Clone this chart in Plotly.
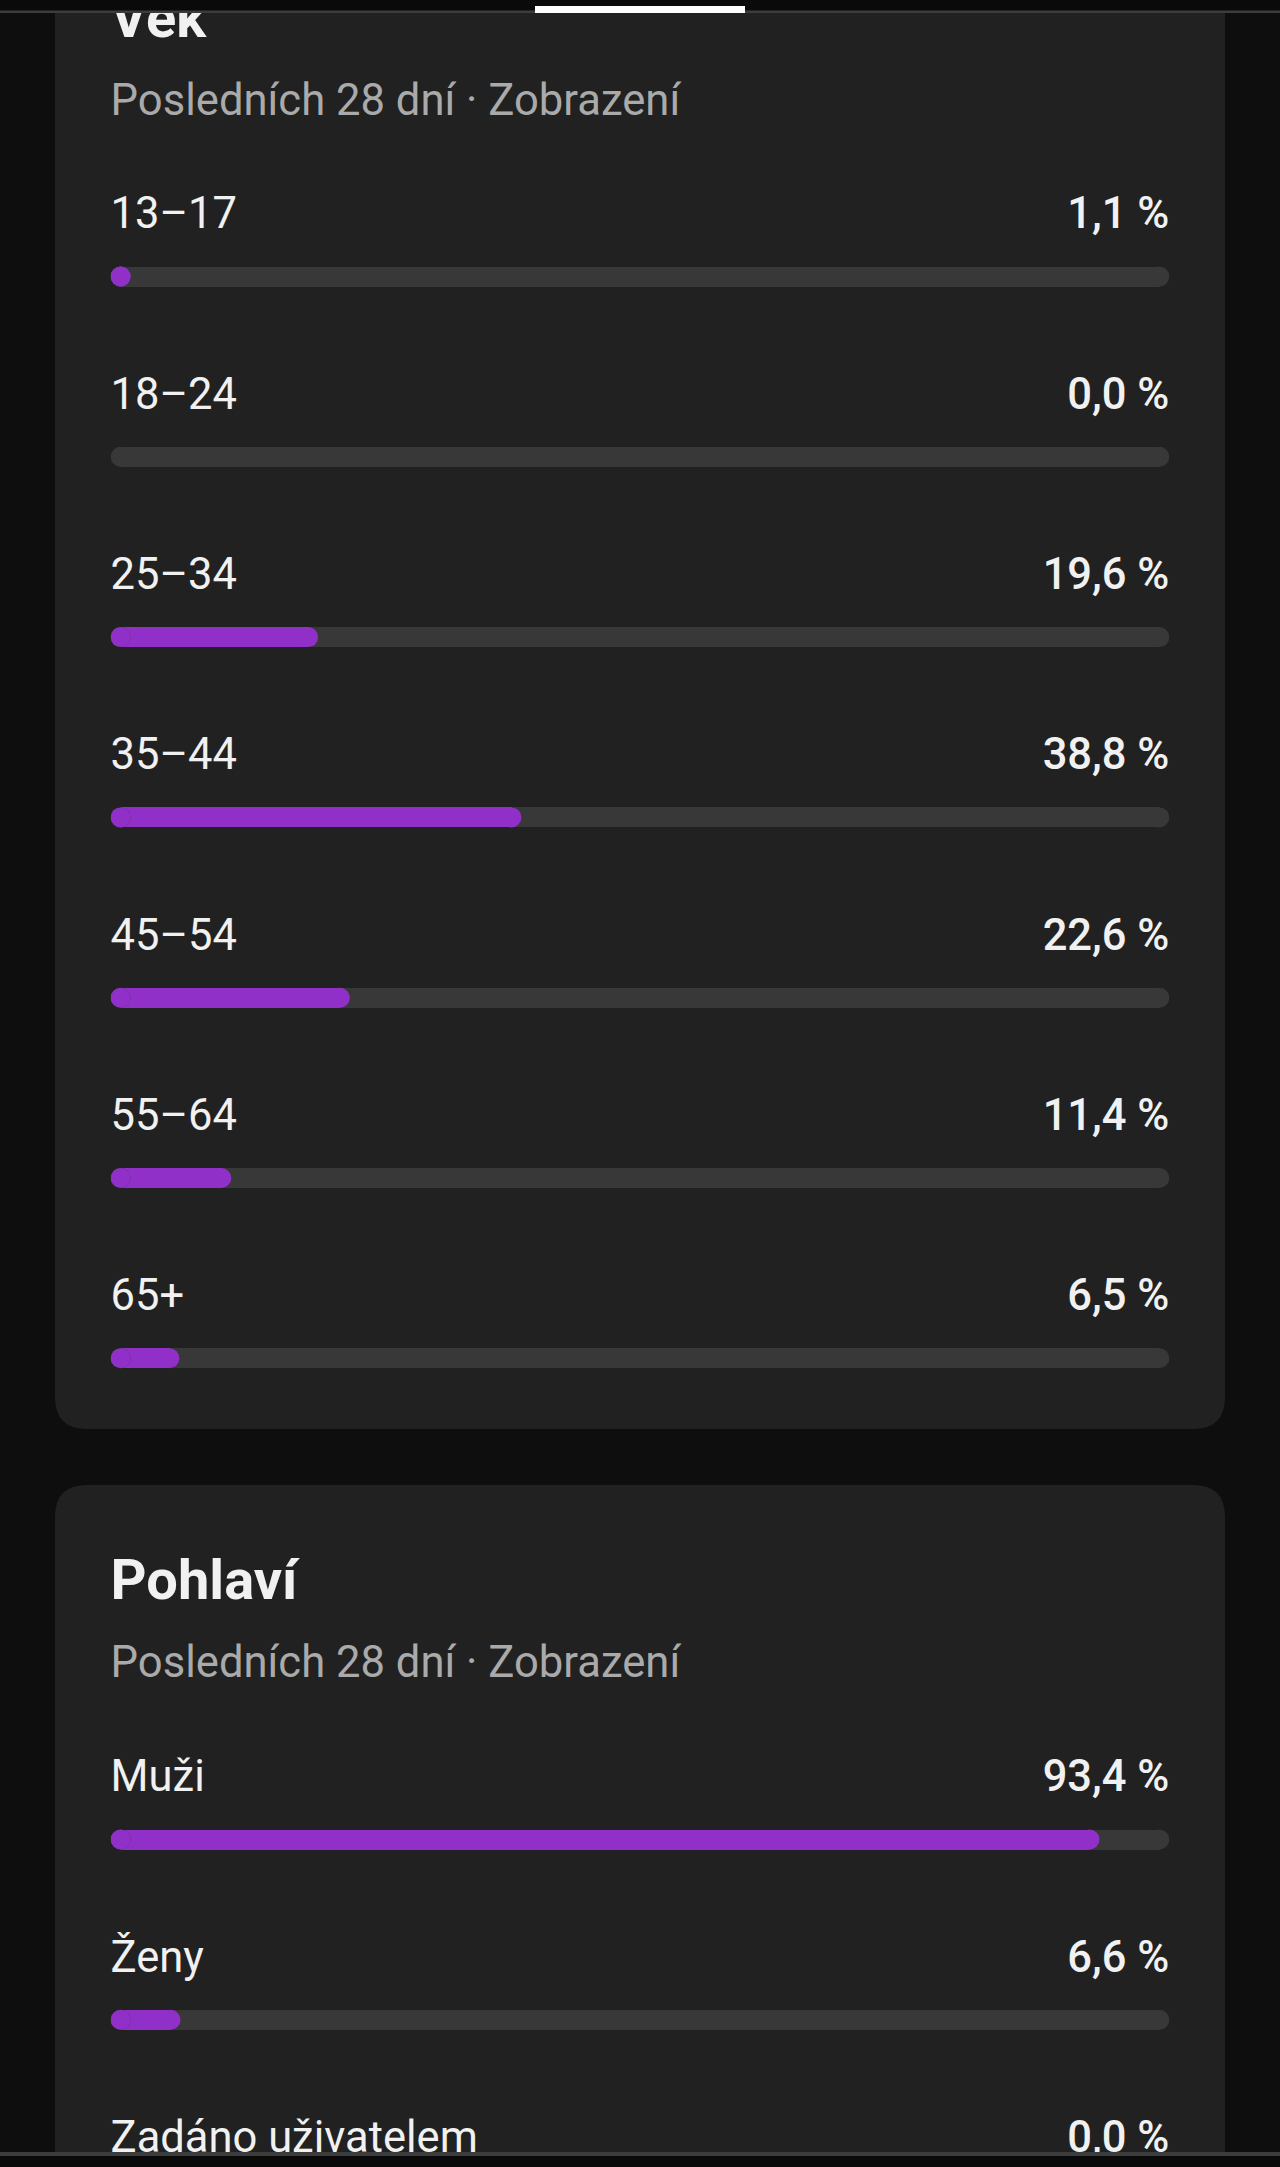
import plotly.graph_objects as go

# Age and gender split, last 28 days (views)
age_labels = ['13–17', '18–24', '25–34', '35–44', '45–54', '55–64', '65+']
age_values = [1.1, 0.0, 19.6, 38.8, 22.6, 11.4, 6.5]

gender_labels = ['Muži', 'Ženy', 'Zadáno uživatelem']
gender_values = [93.4, 6.6, 0.0]

age_title = 'Věk'
gender_title = 'Pohlaví'
subtitle = 'Posledních 28 dní · Zobrazení'

W, H = 1280, 2167
TOP, BOTTOM = 12, 2153
BG = '#0e0e0e'
CARD = '#212121'
TRACK = '#383838'
PURPLE = '#9030c8'
FONT = 'Roboto'

# pixel layout of the cards
card_l, card_r = 55, 1225
bar_l, bar_r = 110.6, 1169.4
row_step = 180.3
age_bar_y0 = 276.5
gender_bar_y0 = 1839.5
label_offset = 59  # label centre sits this far above its bar
bar_h = 20
cap = 100 * (bar_h / 2) / (bar_r - bar_l)  # cap radius, in percent of the track
min_pct = 2 * cap  # the app never draws a pill shorter than it is tall


def rounded_rect(x0, y0, x1, y1, r):
    return (f'M{x0 + r},{y0} L{x1 - r},{y0} Q{x1},{y0} {x1},{y0 + r} '
            f'L{x1},{y1 - r} Q{x1},{y1} {x1 - r},{y1} L{x0 + r},{y1} '
            f'Q{x0},{y1} {x0},{y1 - r} L{x0},{y0 + r} Q{x0},{y0} {x0 + r},{y0} Z')


def fmt(v):
    return f'{v:.1f}'.replace('.', ',') + ' %'


fig = go.Figure()
pill_ends = []  # round ends go on top of all bars, added after the bars


def add_pill(lengths, bar_y, color):
    # percent axis zero sits one radius in from the track start:
    # square body between the two circle centres, a round dot at each end
    keep = [i for i, v in enumerate(lengths) if v > 0]
    ends = [lengths[i] - 2 * cap for i in keep]
    ys = [bar_y[i] for i in keep]
    fig.add_trace(go.Bar(
        x=ends, y=ys, orientation='h', width=bar_h,
        marker=dict(color=color, line=dict(width=0)),
        xaxis='x2', yaxis='y', hoverinfo='skip', showlegend=False,
    ))
    pill_ends.append(go.Scatter(
        x=[0] * len(keep) + ends, y=ys + ys, mode='markers',
        marker=dict(color=color, size=bar_h, symbol='circle', line=dict(width=0)),
        xaxis='x2', yaxis='y', hoverinfo='skip', showlegend=False,
    ))


def add_section(title, labels, values, bar_y0, title_y):
    bar_y = [bar_y0 + i * row_step for i in range(len(labels))]
    label_y = [y - label_offset for y in bar_y]
    shown = [max(v, min_pct) if v > 0 else 0 for v in values]

    add_pill([100] * len(values), bar_y, TRACK)
    add_pill(shown, bar_y, PURPLE)

    # headings
    fig.add_trace(go.Scatter(
        x=[bar_l], y=[title_y], mode='text', text=[f'<b>{title}</b>'],
        textposition='middle right',
        textfont=dict(family=FONT, size=56, color='#f1f1f1'),
        hoverinfo='skip', showlegend=False,
    ))
    fig.add_trace(go.Scatter(
        x=[bar_l], y=[title_y + 81], mode='text', text=[subtitle],
        textposition='middle right',
        textfont=dict(family=FONT, size=43.6, color='#aaaaaa'),
        hoverinfo='skip', showlegend=False,
    ))

    # row labels and percentages
    fig.add_trace(go.Scatter(
        x=[bar_l] * len(labels), y=label_y, mode='text', text=labels,
        textposition='middle right',
        textfont=dict(family=FONT, size=43.5, color='#f1f1f1'),
        hoverinfo='skip', showlegend=False,
    ))
    fig.add_trace(go.Scatter(
        x=[bar_r] * len(values), y=label_y, mode='text',
        text=[fmt(v) for v in values],
        textposition='middle left',
        textfont=dict(family=FONT, size=43.5, color='#f1f1f1', weight=500),
        hoverinfo='skip', showlegend=False,
    ))


add_section(age_title, age_labels, age_values, age_bar_y0, 23)
add_section(gender_title, gender_labels, gender_values, gender_bar_y0, 1585)
for tr in pill_ends:
    fig.add_trace(tr)

shapes = [
    dict(type='path', xref='x', yref='y', layer='below',
         path=rounded_rect(card_l, -200, card_r, 1429, 32),
         fillcolor=CARD, line=dict(width=0)),
    dict(type='path', xref='x', yref='y', layer='below',
         path=rounded_rect(card_l, 1485, card_r, 2400, 32),
         fillcolor=CARD, line=dict(width=0)),
]


def py(p):
    return (BOTTOM - p) / (BOTTOM - TOP)


# status strip at the top and bottom edge
shapes += [
    dict(type='rect', xref='paper', yref='paper', x0=0, x1=1,
         y0=py(TOP), y1=py(0), fillcolor='#0a0a0a', line=dict(width=0), layer='above'),
    dict(type='rect', xref='paper', yref='paper', x0=0, x1=1,
         y0=py(13), y1=py(10.5), fillcolor='#3c3c3c', line=dict(width=0), layer='above'),
    dict(type='rect', xref='paper', yref='paper', x0=535 / W, x1=745 / W,
         y0=py(13), y1=py(6), fillcolor='#ffffff', line=dict(width=0), layer='above'),
    dict(type='rect', xref='paper', yref='paper', x0=0, x1=1,
         y0=py(H), y1=py(BOTTOM), fillcolor='#0a0a0a', line=dict(width=0), layer='above'),
    dict(type='rect', xref='paper', yref='paper', x0=0, x1=1,
         y0=py(2156), y1=py(2152), fillcolor='#3c3c3c', line=dict(width=0), layer='above'),
]

fig.update_layout(
    width=W, height=H,
    margin=dict(l=0, r=0, t=TOP, b=H - BOTTOM, pad=0),
    paper_bgcolor=BG, plot_bgcolor='rgba(0,0,0,0)',
    barmode='overlay', bargap=0,
    shapes=shapes,
    xaxis=dict(range=[0, W], domain=[0, 1], visible=False, fixedrange=True),
    xaxis2=dict(range=[-cap, 100 - cap], domain=[bar_l / W, bar_r / W], anchor='y',
                visible=False, fixedrange=True),
    yaxis=dict(range=[BOTTOM, TOP], domain=[0, 1], visible=False, fixedrange=True),
    font=dict(family=FONT),
)

fig.write_html(
    'out.html',
    config={'displayModeBar': False},
    post_script="document.body.style.margin='0';document.body.style.background='#0e0e0e';",
)
